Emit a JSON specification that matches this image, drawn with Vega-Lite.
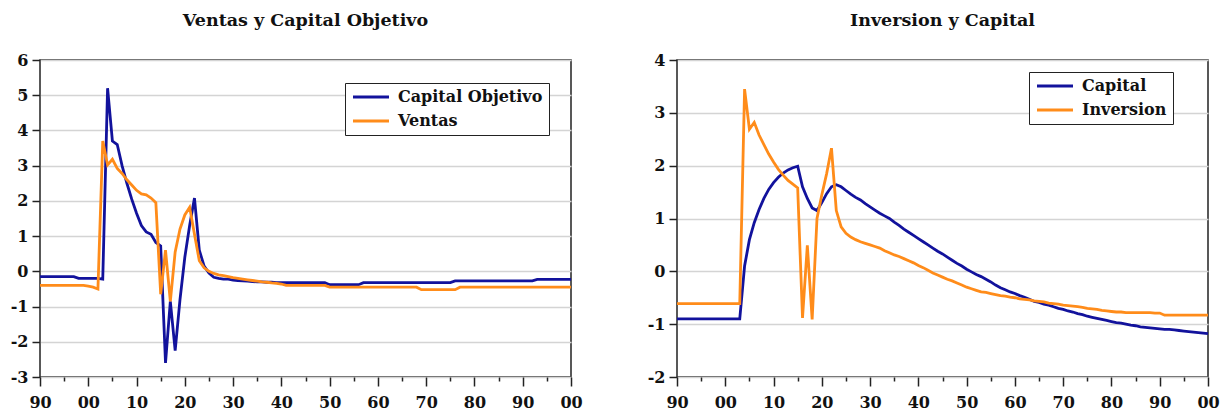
{
  "$schema": "https://vega.github.io/schema/vega-lite/v6.json",
  "background": "white",
  "padding": {"left": 9, "top": 10, "right": 5, "bottom": 0},
  "config": {
    "font": "DejaVu Serif",
    "view": {"stroke": "#222222", "strokeWidth": 1.5},
    "title": {"font": "DejaVu Serif", "fontSize": 17.5, "fontWeight": "bold", "color": "#111111", "anchor": "middle", "baseline": "alphabetic", "offset": 23},
    "axis": {
      "title": null,
      "domain": false,
      "labelFont": "DejaVu Serif",
      "labelFontWeight": "bold",
      "labelFontSize": 16,
      "labelColor": "#111111",
      "tickColor": "#222222",
      "tickWidth": 1.5
    },
    "legend": {
      "title": null,
      "orient": "none",
      "labelFont": "DejaVu Serif",
      "labelFontWeight": "bold",
      "labelFontSize": 16,
      "labelColor": "#111111",
      "symbolType": "M-3.6,0L3.6,0",
      "symbolSize": 100,
      "symbolStrokeWidth": 3,
      "symbolOffset": 12,
      "labelOffset": 19,
      "rowPadding": 8,
      "padding": 6,
      "strokeColor": "#222222",
      "fillColor": "white"
    }
  },
  "datasets": {
    "series": [
      {"year": 1990, "Capital Objetivo": -0.15, "Ventas": -0.4, "Capital": -0.9, "Inversion": -0.61},
      {"year": 1991, "Capital Objetivo": -0.15, "Ventas": -0.4, "Capital": -0.9, "Inversion": -0.61},
      {"year": 1992, "Capital Objetivo": -0.15, "Ventas": -0.4, "Capital": -0.9, "Inversion": -0.61},
      {"year": 1993, "Capital Objetivo": -0.15, "Ventas": -0.4, "Capital": -0.9, "Inversion": -0.61},
      {"year": 1994, "Capital Objetivo": -0.15, "Ventas": -0.4, "Capital": -0.9, "Inversion": -0.61},
      {"year": 1995, "Capital Objetivo": -0.15, "Ventas": -0.4, "Capital": -0.9, "Inversion": -0.61},
      {"year": 1996, "Capital Objetivo": -0.15, "Ventas": -0.4, "Capital": -0.9, "Inversion": -0.61},
      {"year": 1997, "Capital Objetivo": -0.15, "Ventas": -0.4, "Capital": -0.9, "Inversion": -0.61},
      {"year": 1998, "Capital Objetivo": -0.2, "Ventas": -0.4, "Capital": -0.9, "Inversion": -0.61},
      {"year": 1999, "Capital Objetivo": -0.2, "Ventas": -0.4, "Capital": -0.9, "Inversion": -0.61},
      {"year": 2000, "Capital Objetivo": -0.2, "Ventas": -0.42, "Capital": -0.9, "Inversion": -0.61},
      {"year": 2001, "Capital Objetivo": -0.2, "Ventas": -0.45, "Capital": -0.9, "Inversion": -0.61},
      {"year": 2002, "Capital Objetivo": -0.2, "Ventas": -0.5, "Capital": -0.9, "Inversion": -0.61},
      {"year": 2003, "Capital Objetivo": -0.22, "Ventas": 3.7, "Capital": -0.9, "Inversion": -0.61},
      {"year": 2004, "Capital Objetivo": 5.2, "Ventas": 3.02, "Capital": 0.1, "Inversion": 3.45},
      {"year": 2005, "Capital Objetivo": 3.7, "Ventas": 3.18, "Capital": 0.6, "Inversion": 2.69},
      {"year": 2006, "Capital Objetivo": 3.6, "Ventas": 2.92, "Capital": 0.92, "Inversion": 2.82},
      {"year": 2007, "Capital Objetivo": 3.0, "Ventas": 2.78, "Capital": 1.17, "Inversion": 2.58},
      {"year": 2008, "Capital Objetivo": 2.5, "Ventas": 2.6, "Capital": 1.38, "Inversion": 2.4},
      {"year": 2009, "Capital Objetivo": 2.05, "Ventas": 2.45, "Capital": 1.55, "Inversion": 2.22},
      {"year": 2010, "Capital Objetivo": 1.65, "Ventas": 2.3, "Capital": 1.68, "Inversion": 2.07},
      {"year": 2011, "Capital Objetivo": 1.3, "Ventas": 2.2, "Capital": 1.78, "Inversion": 1.93},
      {"year": 2012, "Capital Objetivo": 1.12, "Ventas": 2.17, "Capital": 1.86, "Inversion": 1.82},
      {"year": 2013, "Capital Objetivo": 1.05, "Ventas": 2.08, "Capital": 1.92, "Inversion": 1.72},
      {"year": 2014, "Capital Objetivo": 0.82, "Ventas": 1.95, "Capital": 1.96, "Inversion": 1.65},
      {"year": 2015, "Capital Objetivo": 0.72, "Ventas": -0.65, "Capital": 1.99, "Inversion": 1.58},
      {"year": 2016, "Capital Objetivo": -2.6, "Ventas": 0.6, "Capital": 1.6, "Inversion": -0.88},
      {"year": 2017, "Capital Objetivo": -0.85, "Ventas": -0.85, "Capital": 1.38, "Inversion": 0.49},
      {"year": 2018, "Capital Objetivo": -2.25, "Ventas": 0.55, "Capital": 1.2, "Inversion": -0.91},
      {"year": 2019, "Capital Objetivo": -0.8, "Ventas": 1.2, "Capital": 1.15, "Inversion": 1.0},
      {"year": 2020, "Capital Objetivo": 0.4, "Ventas": 1.6, "Capital": 1.3, "Inversion": 1.45},
      {"year": 2021, "Capital Objetivo": 1.3, "Ventas": 1.82, "Capital": 1.47, "Inversion": 1.85},
      {"year": 2022, "Capital Objetivo": 2.08, "Ventas": 1.05, "Capital": 1.6, "Inversion": 2.33},
      {"year": 2023, "Capital Objetivo": 0.6, "Ventas": 0.3, "Capital": 1.64, "Inversion": 1.15},
      {"year": 2024, "Capital Objetivo": 0.15, "Ventas": 0.1, "Capital": 1.6, "Inversion": 0.84},
      {"year": 2025, "Capital Objetivo": -0.05, "Ventas": 0.0, "Capital": 1.53, "Inversion": 0.72},
      {"year": 2026, "Capital Objetivo": -0.17, "Ventas": -0.06, "Capital": 1.46, "Inversion": 0.65},
      {"year": 2027, "Capital Objetivo": -0.2, "Ventas": -0.1, "Capital": 1.4, "Inversion": 0.6},
      {"year": 2028, "Capital Objetivo": -0.22, "Ventas": -0.12, "Capital": 1.35, "Inversion": 0.56},
      {"year": 2029, "Capital Objetivo": -0.22, "Ventas": -0.15, "Capital": 1.28, "Inversion": 0.53},
      {"year": 2030, "Capital Objetivo": -0.25, "Ventas": -0.18, "Capital": 1.22, "Inversion": 0.5},
      {"year": 2031, "Capital Objetivo": -0.26, "Ventas": -0.2, "Capital": 1.16, "Inversion": 0.47},
      {"year": 2032, "Capital Objetivo": -0.27, "Ventas": -0.22, "Capital": 1.1, "Inversion": 0.44},
      {"year": 2033, "Capital Objetivo": -0.28, "Ventas": -0.24, "Capital": 1.05, "Inversion": 0.39},
      {"year": 2034, "Capital Objetivo": -0.29, "Ventas": -0.26, "Capital": 1.0, "Inversion": 0.35},
      {"year": 2035, "Capital Objetivo": -0.3, "Ventas": -0.28, "Capital": 0.93, "Inversion": 0.31},
      {"year": 2036, "Capital Objetivo": -0.3, "Ventas": -0.3, "Capital": 0.87, "Inversion": 0.28},
      {"year": 2037, "Capital Objetivo": -0.31, "Ventas": -0.31, "Capital": 0.8, "Inversion": 0.24},
      {"year": 2038, "Capital Objetivo": -0.31, "Ventas": -0.33, "Capital": 0.74, "Inversion": 0.2},
      {"year": 2039, "Capital Objetivo": -0.32, "Ventas": -0.34, "Capital": 0.68, "Inversion": 0.16},
      {"year": 2040, "Capital Objetivo": -0.32, "Ventas": -0.36, "Capital": 0.62, "Inversion": 0.11},
      {"year": 2041, "Capital Objetivo": -0.32, "Ventas": -0.4, "Capital": 0.56, "Inversion": 0.07},
      {"year": 2042, "Capital Objetivo": -0.32, "Ventas": -0.4, "Capital": 0.5, "Inversion": 0.02},
      {"year": 2043, "Capital Objetivo": -0.32, "Ventas": -0.4, "Capital": 0.44, "Inversion": -0.03},
      {"year": 2044, "Capital Objetivo": -0.32, "Ventas": -0.4, "Capital": 0.38, "Inversion": -0.07},
      {"year": 2045, "Capital Objetivo": -0.32, "Ventas": -0.4, "Capital": 0.33, "Inversion": -0.11},
      {"year": 2046, "Capital Objetivo": -0.32, "Ventas": -0.4, "Capital": 0.27, "Inversion": -0.15},
      {"year": 2047, "Capital Objetivo": -0.32, "Ventas": -0.4, "Capital": 0.21, "Inversion": -0.18},
      {"year": 2048, "Capital Objetivo": -0.32, "Ventas": -0.4, "Capital": 0.15, "Inversion": -0.22},
      {"year": 2049, "Capital Objetivo": -0.32, "Ventas": -0.4, "Capital": 0.1, "Inversion": -0.26},
      {"year": 2050, "Capital Objetivo": -0.38, "Ventas": -0.45, "Capital": 0.04, "Inversion": -0.3},
      {"year": 2051, "Capital Objetivo": -0.38, "Ventas": -0.45, "Capital": -0.01, "Inversion": -0.33},
      {"year": 2052, "Capital Objetivo": -0.38, "Ventas": -0.45, "Capital": -0.06, "Inversion": -0.36},
      {"year": 2053, "Capital Objetivo": -0.38, "Ventas": -0.45, "Capital": -0.1, "Inversion": -0.39},
      {"year": 2054, "Capital Objetivo": -0.38, "Ventas": -0.45, "Capital": -0.15, "Inversion": -0.4},
      {"year": 2055, "Capital Objetivo": -0.38, "Ventas": -0.45, "Capital": -0.2, "Inversion": -0.42},
      {"year": 2056, "Capital Objetivo": -0.38, "Ventas": -0.45, "Capital": -0.26, "Inversion": -0.44},
      {"year": 2057, "Capital Objetivo": -0.32, "Ventas": -0.45, "Capital": -0.31, "Inversion": -0.46},
      {"year": 2058, "Capital Objetivo": -0.32, "Ventas": -0.45, "Capital": -0.35, "Inversion": -0.47},
      {"year": 2059, "Capital Objetivo": -0.32, "Ventas": -0.45, "Capital": -0.39, "Inversion": -0.49},
      {"year": 2060, "Capital Objetivo": -0.32, "Ventas": -0.45, "Capital": -0.42, "Inversion": -0.5},
      {"year": 2061, "Capital Objetivo": -0.32, "Ventas": -0.45, "Capital": -0.46, "Inversion": -0.52},
      {"year": 2062, "Capital Objetivo": -0.32, "Ventas": -0.45, "Capital": -0.49, "Inversion": -0.53},
      {"year": 2063, "Capital Objetivo": -0.32, "Ventas": -0.45, "Capital": -0.53, "Inversion": -0.54},
      {"year": 2064, "Capital Objetivo": -0.32, "Ventas": -0.45, "Capital": -0.57, "Inversion": -0.56},
      {"year": 2065, "Capital Objetivo": -0.32, "Ventas": -0.45, "Capital": -0.59, "Inversion": -0.57},
      {"year": 2066, "Capital Objetivo": -0.32, "Ventas": -0.45, "Capital": -0.62, "Inversion": -0.58},
      {"year": 2067, "Capital Objetivo": -0.32, "Ventas": -0.45, "Capital": -0.64, "Inversion": -0.6},
      {"year": 2068, "Capital Objetivo": -0.32, "Ventas": -0.45, "Capital": -0.67, "Inversion": -0.61},
      {"year": 2069, "Capital Objetivo": -0.32, "Ventas": -0.52, "Capital": -0.7, "Inversion": -0.62},
      {"year": 2070, "Capital Objetivo": -0.32, "Ventas": -0.52, "Capital": -0.72, "Inversion": -0.64},
      {"year": 2071, "Capital Objetivo": -0.32, "Ventas": -0.52, "Capital": -0.75, "Inversion": -0.65},
      {"year": 2072, "Capital Objetivo": -0.32, "Ventas": -0.52, "Capital": -0.77, "Inversion": -0.66},
      {"year": 2073, "Capital Objetivo": -0.32, "Ventas": -0.52, "Capital": -0.8, "Inversion": -0.67},
      {"year": 2074, "Capital Objetivo": -0.32, "Ventas": -0.52, "Capital": -0.82, "Inversion": -0.68},
      {"year": 2075, "Capital Objetivo": -0.32, "Ventas": -0.52, "Capital": -0.85, "Inversion": -0.7},
      {"year": 2076, "Capital Objetivo": -0.27, "Ventas": -0.52, "Capital": -0.87, "Inversion": -0.71},
      {"year": 2077, "Capital Objetivo": -0.27, "Ventas": -0.45, "Capital": -0.89, "Inversion": -0.72},
      {"year": 2078, "Capital Objetivo": -0.27, "Ventas": -0.45, "Capital": -0.91, "Inversion": -0.74},
      {"year": 2079, "Capital Objetivo": -0.27, "Ventas": -0.45, "Capital": -0.93, "Inversion": -0.75},
      {"year": 2080, "Capital Objetivo": -0.27, "Ventas": -0.45, "Capital": -0.95, "Inversion": -0.76},
      {"year": 2081, "Capital Objetivo": -0.27, "Ventas": -0.45, "Capital": -0.97, "Inversion": -0.77},
      {"year": 2082, "Capital Objetivo": -0.27, "Ventas": -0.45, "Capital": -0.98, "Inversion": -0.77},
      {"year": 2083, "Capital Objetivo": -0.27, "Ventas": -0.45, "Capital": -1.0, "Inversion": -0.78},
      {"year": 2084, "Capital Objetivo": -0.27, "Ventas": -0.45, "Capital": -1.02, "Inversion": -0.78},
      {"year": 2085, "Capital Objetivo": -0.27, "Ventas": -0.45, "Capital": -1.03, "Inversion": -0.78},
      {"year": 2086, "Capital Objetivo": -0.27, "Ventas": -0.45, "Capital": -1.05, "Inversion": -0.78},
      {"year": 2087, "Capital Objetivo": -0.27, "Ventas": -0.45, "Capital": -1.06, "Inversion": -0.78},
      {"year": 2088, "Capital Objetivo": -0.27, "Ventas": -0.45, "Capital": -1.07, "Inversion": -0.78},
      {"year": 2089, "Capital Objetivo": -0.27, "Ventas": -0.45, "Capital": -1.08, "Inversion": -0.79},
      {"year": 2090, "Capital Objetivo": -0.27, "Ventas": -0.45, "Capital": -1.09, "Inversion": -0.79},
      {"year": 2091, "Capital Objetivo": -0.27, "Ventas": -0.45, "Capital": -1.1, "Inversion": -0.83},
      {"year": 2092, "Capital Objetivo": -0.27, "Ventas": -0.45, "Capital": -1.1, "Inversion": -0.83},
      {"year": 2093, "Capital Objetivo": -0.23, "Ventas": -0.45, "Capital": -1.11, "Inversion": -0.83},
      {"year": 2094, "Capital Objetivo": -0.23, "Ventas": -0.45, "Capital": -1.12, "Inversion": -0.83},
      {"year": 2095, "Capital Objetivo": -0.23, "Ventas": -0.45, "Capital": -1.13, "Inversion": -0.83},
      {"year": 2096, "Capital Objetivo": -0.23, "Ventas": -0.45, "Capital": -1.14, "Inversion": -0.83},
      {"year": 2097, "Capital Objetivo": -0.23, "Ventas": -0.45, "Capital": -1.15, "Inversion": -0.83},
      {"year": 2098, "Capital Objetivo": -0.23, "Ventas": -0.45, "Capital": -1.16, "Inversion": -0.83},
      {"year": 2099, "Capital Objetivo": -0.23, "Ventas": -0.45, "Capital": -1.17, "Inversion": -0.83},
      {"year": 2100, "Capital Objetivo": -0.23, "Ventas": -0.45, "Capital": -1.18, "Inversion": -0.83}
    ]
  },
  "spacing": 63,
  "resolve": {"scale": {"color": "independent", "y": "independent"}, "legend": {"color": "independent"}},
  "hconcat": [
    {
      "width": 531,
      "height": 317,
      "title": {"text": "Ventas y Capital Objetivo"},
      "data": {"name": "series"},
      "transform": [{"fold": ["Capital Objetivo", "Ventas"], "as": ["serie", "valor"]}],
      "mark": {"type": "line", "strokeWidth": 2.8},
      "encoding": {
        "x": {
          "field": "year", "type": "quantitative",
          "scale": {"domain": [1990, 2100], "nice": false, "zero": false},
          "axis": {
            "grid": false,
            "values": [1990, 1995, 2000, 2005, 2010, 2015, 2020, 2025, 2030, 2035, 2040, 2045, 2050, 2055, 2060, 2065, 2070, 2075, 2080, 2085, 2090, 2095, 2100],
            "labelExpr": "datum.value % 10 === 0 ? ((datum.value % 100 < 10 ? '0' : '') + (datum.value % 100)) : ''",
            "tickSize": {"condition": {"test": "datum.value % 10 === 0", "value": 9}, "value": 4},
            "labelPadding": 8,
            "labelFlush": false,
            "labelOverlap": false
          }
        },
        "y": {
          "field": "valor", "type": "quantitative",
          "scale": {"domain": [-3, 6], "nice": false, "zero": false},
          "axis": {
            "values": [-3, -2, -1, 0, 1, 2, 3, 4, 5, 6],
            "labelExpr": "'' + datum.value",
            "grid": true, "gridColor": "#d4d4d4", "gridWidth": 1.5,
            "tickSize": 8, "labelPadding": 4
          }
        },
        "color": {
          "field": "serie", "type": "nominal",
          "scale": {"domain": ["Capital Objetivo", "Ventas"], "range": ["#12129c", "#ff8c1a"]},
          "legend": {"legendX": 305, "legendY": 23}
        }
      }
    },
    {
      "width": 531,
      "height": 317,
      "title": {"text": "Inversion y Capital"},
      "data": {"name": "series"},
      "transform": [{"fold": ["Capital", "Inversion"], "as": ["serie", "valor"]}],
      "mark": {"type": "line", "strokeWidth": 2.8},
      "encoding": {
        "x": {
          "field": "year", "type": "quantitative",
          "scale": {"domain": [1990, 2100], "nice": false, "zero": false},
          "axis": {
            "grid": false,
            "values": [1990, 1995, 2000, 2005, 2010, 2015, 2020, 2025, 2030, 2035, 2040, 2045, 2050, 2055, 2060, 2065, 2070, 2075, 2080, 2085, 2090, 2095, 2100],
            "labelExpr": "datum.value % 10 === 0 ? ((datum.value % 100 < 10 ? '0' : '') + (datum.value % 100)) : ''",
            "tickSize": {"condition": {"test": "datum.value % 10 === 0", "value": 9}, "value": 4},
            "labelPadding": 8,
            "labelFlush": false,
            "labelOverlap": false
          }
        },
        "y": {
          "field": "valor", "type": "quantitative",
          "scale": {"domain": [-2, 4], "nice": false, "zero": false},
          "axis": {
            "values": [-2, -1, 0, 1, 2, 3, 4],
            "labelExpr": "'' + datum.value",
            "grid": true, "gridColor": "#d4d4d4", "gridWidth": 1.5,
            "tickSize": 8, "labelPadding": 4
          }
        },
        "color": {
          "field": "serie", "type": "nominal",
          "scale": {"domain": ["Capital", "Inversion"], "range": ["#12129c", "#ff8c1a"]},
          "legend": {"legendX": 352, "legendY": 12}
        }
      }
    }
  ]
}
